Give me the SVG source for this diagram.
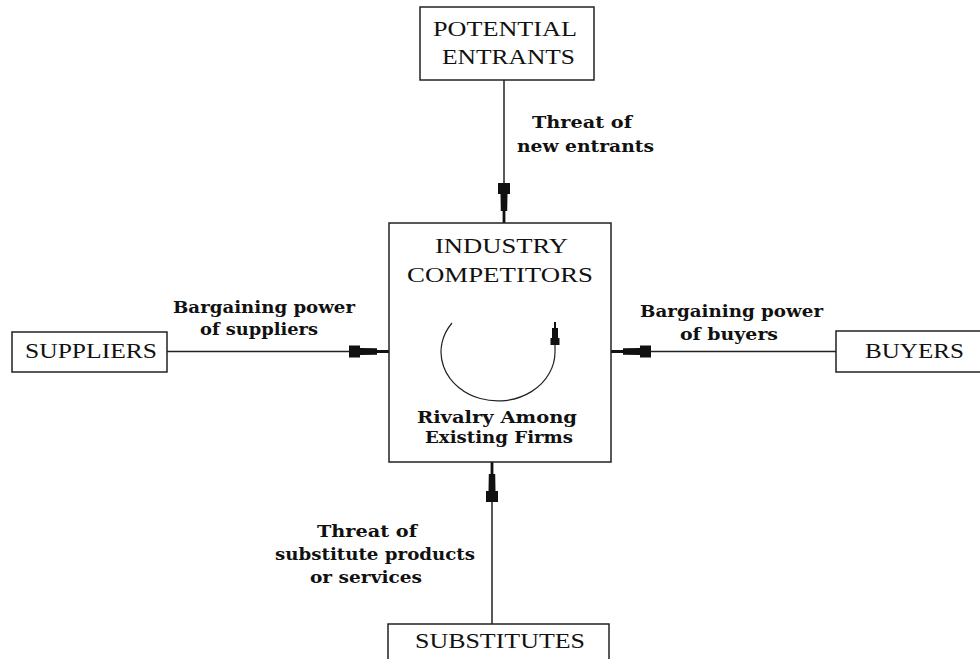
<svg xmlns="http://www.w3.org/2000/svg" width="980" height="659" viewBox="0 0 980 659">
<style>
.box{fill:#fff;stroke:#222;stroke-width:1.5}
.name{font-family:"Liberation Serif","Times New Roman",serif;font-size:21px;fill:#111}
.lbl{font-family:"DejaVu Serif","Liberation Serif",serif;font-size:16px;font-weight:bold;fill:#111}
.con{fill:none;stroke:#222;stroke-width:1.5}
</style>
<defs>
<marker id="ah" markerUnits="userSpaceOnUse" viewBox="0 -7 40 14" markerWidth="40" markerHeight="14" refX="40" refY="0" orient="auto">
<path d="M0,-6 L11,-6 L11,-3.5 L28,-3.2 L28,-1.4 L40,-1.4 L40,1.4 L28,1.4 L28,3.2 L11,3.5 L11,6 L0,6 Z" fill="#111"/>
</marker>
<marker id="ahs" markerUnits="userSpaceOnUse" viewBox="0 -5 23 10" markerWidth="23" markerHeight="10" refX="23" refY="0" orient="auto">
<path d="M0,-4.5 L7,-4.5 L7,-3 L17,-3 L17,-1 L23,-1 L23,1 L17,1 L17,3 L7,3 L7,4.5 L0,4.5 Z" fill="#111"/>
</marker>
</defs>
<rect width="980" height="659" fill="#fff"/>
<g id="connectors">
<path class="con" d="M504,80 L504,223" marker-end="url(#ah)"/>
<path class="con" d="M167,351.5 L389,351.5" marker-end="url(#ah)"/>
<path class="con" d="M836,351.5 L611,351.5" marker-end="url(#ah)"/>
<path class="con" d="M492,624 L492,462" marker-end="url(#ah)"/>
<text class="lbl" x="532" y="128" textLength="100" lengthAdjust="spacingAndGlyphs">Threat of</text>
<text class="lbl" x="517" y="152" textLength="137" lengthAdjust="spacingAndGlyphs">new entrants</text>
<text class="lbl" x="173" y="313" textLength="182" lengthAdjust="spacingAndGlyphs">Bargaining power</text>
<text class="lbl" x="200" y="335" textLength="118" lengthAdjust="spacingAndGlyphs">of suppliers</text>
<text class="lbl" x="640" y="317" textLength="183" lengthAdjust="spacingAndGlyphs">Bargaining power</text>
<text class="lbl" x="680" y="340" textLength="98" lengthAdjust="spacingAndGlyphs">of buyers</text>
<text class="lbl" x="317" y="537" textLength="100" lengthAdjust="spacingAndGlyphs">Threat of</text>
<text class="lbl" x="275" y="560" textLength="200" lengthAdjust="spacingAndGlyphs">substitute products</text>
<text class="lbl" x="310" y="583" textLength="112" lengthAdjust="spacingAndGlyphs">or services</text>
</g>
<g id="potential-entrants">
<rect class="box" x="420" y="7" width="174" height="73"/>
<text class="name" x="433" y="36" textLength="144" lengthAdjust="spacingAndGlyphs">POTENTIAL</text>
<text class="name" x="442" y="64" textLength="133" lengthAdjust="spacingAndGlyphs">ENTRANTS</text>
</g>
<g id="industry-competitors">
<rect class="box" x="389" y="223" width="222" height="239"/>
<text class="name" x="435" y="253" textLength="133" lengthAdjust="spacingAndGlyphs">INDUSTRY</text>
<text class="name" x="407" y="282" textLength="186" lengthAdjust="spacingAndGlyphs">COMPETITORS</text>
<path d="M452,323 A57,49 0 1,0 555,352 L555,322" fill="none" stroke="#222" stroke-width="1.2" marker-end="url(#ahs)"/>
<text class="lbl" x="417" y="423" textLength="160" lengthAdjust="spacingAndGlyphs">Rivalry Among</text>
<text class="lbl" x="425" y="443" textLength="148" lengthAdjust="spacingAndGlyphs">Existing Firms</text>
</g>
<g id="suppliers">
<rect class="box" x="12" y="332" width="155" height="40"/>
<text class="name" x="25" y="358" textLength="132" lengthAdjust="spacingAndGlyphs">SUPPLIERS</text>
</g>
<g id="buyers">
<rect class="box" x="836" y="331" width="160" height="41"/>
<text class="name" x="865" y="358" textLength="99" lengthAdjust="spacingAndGlyphs">BUYERS</text>
</g>
<g id="substitutes">
<rect class="box" x="388" y="624" width="221" height="50"/>
<text class="name" x="415" y="648" textLength="170" lengthAdjust="spacingAndGlyphs">SUBSTITUTES</text>
</g>
</svg>
